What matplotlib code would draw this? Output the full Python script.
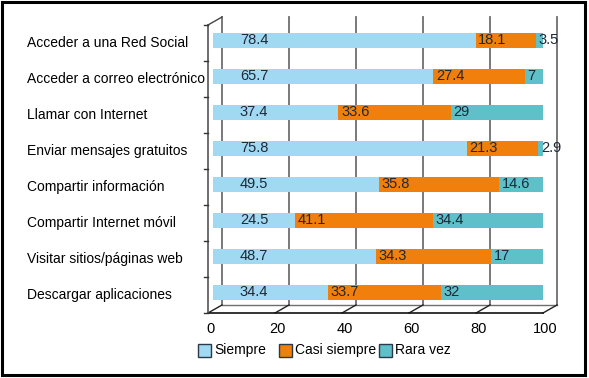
import matplotlib
matplotlib.use("Agg")
import matplotlib.pyplot as plt
import matplotlib.transforms as mtransforms
from matplotlib.patches import Rectangle

plt.rcParams['font.family'] = ['Liberation Sans', 'DejaVu Sans']

categories = ["Acceder a una Red Social", "Acceder a correo electrónico",
              "Llamar con Internet", "Enviar mensajes gratuitos",
              "Compartir información", "Compartir Internet móvil",
              "Visitar sitios/páginas web", "Descargar aplicaciones"]
siempre = [78.4, 65.7, 37.4, 75.8, 49.5, 24.5, 48.7, 34.4]
casi_siempre = [18.1, 27.4, 33.6, 21.3, 35.8, 41.1, 34.3, 33.7]
rara_vez = [3.5, 7, 29, 2.9, 14.6, 34.4, 17, 32]
series_names = ["Siempre", "Casi siempre", "Rara vez"]
colors = ["#a0d9f1", "#f07f0b", "#5fc0c9"]
xticks = [0, 20, 40, 60, 80, 100]

W, H = 589, 378
fig = plt.figure(figsize=(W / 100, H / 100), dpi=100)
# front plane of the pseudo-3D box
x0, x1, ytop, ybot = 208, 543, 25, 313
ax = fig.add_axes([x0 / W, 1 - ybot / H, (x1 - x0) / W, (ybot - ytop) / H])
ax.set_xlim(0, 100)
ax.set_ylim(len(categories) - 0.5, -0.5)
ax.axis("off")

pxu = (x1 - x0) / 100.0          # pixels per x unit
pyu = (ybot - ytop) / len(categories)
dx = 14 / pxu                     # depth offset
dy = -8 / pyu
grid_c = "#6e6e6e"
n = len(categories)
ylo, yhi = -0.5, n - 0.5

# back wall gridlines
for v in xticks:
    ax.plot([v + dx, v + dx], [ylo + dy, yhi + dy], color=grid_c, lw=1.3, clip_on=False, zorder=1)
# back floor line
ax.plot([dx, 100 + dx], [yhi + dy, yhi + dy], color=grid_c, lw=1.0, clip_on=False, zorder=1)
# floor diagonals
for v in xticks:
    ax.plot([v, v + dx], [yhi, yhi + dy], color="#222222", lw=1.0, clip_on=False, zorder=1)
# top-left diagonal
ax.plot([0, dx], [ylo, ylo + dy], color="#444444", lw=1.0, clip_on=False, zorder=1)
# front axes
ax.plot([0, 100], [yhi, yhi], color="#111111", lw=1.2, clip_on=False, zorder=3)
ax.plot([0, 0], [ylo, yhi], color="#555555", lw=1.2, clip_on=False, zorder=3)
for k in range(n + 1):
    ax.plot([-4 / pxu, 0], [ylo + k, ylo + k], color="#333333", lw=1.0, clip_on=False, zorder=3)

# bars
bar_off = 5 / pxu
ypos = [i - 2.5 / pyu for i in range(n)]
bh = 15 / pyu
left = [bar_off] * n
for vals, c in zip([siempre, casi_siempre, rara_vez], colors):
    ax.barh(ypos, vals, left=left, height=bh, color=c, edgecolor="none", zorder=2)
    for i, v in enumerate(vals):
        if c == colors[0]:
            tx = 9.5
        else:
            tx = left[i] + 0.8
        ax.text(tx, ypos[i], f"{v:g}", ha="left", va="center", fontsize=10.5,
                color="#1e2836", zorder=4)
    left = [l + v for l, v in zip(left, vals)]

# category labels
trans = mtransforms.blended_transform_factory(fig.transFigure, ax.transData)
for i, cat in enumerate(categories):
    ax.text(27 / W, i, cat, transform=trans, ha="left", va="center", fontsize=10, color="black")

# x tick labels
for v in xticks:
    ax.text(v + 0.8, yhi + 16 / pyu, str(v), ha="center", va="center", fontsize=10.5, color="black")

# legend
lx = [198, 279, 379]
for name, c, px in zip(series_names, colors, lx):
    fig.patches.append(Rectangle((px / W, 1 - 357 / H), 13 / W, 13 / H, transform=fig.transFigure,
                                 facecolor=c, edgecolor="#2a3a4a", lw=1.0))
    fig.text((px + 16) / W, 1 - 350 / H, name, ha="left", va="center", fontsize=10, color="black")

# outer frame
fig.patches.append(Rectangle((2 / W, 1 - 375 / H), 583 / W, 373 / H, transform=fig.transFigure,
                             facecolor="none", edgecolor="black", lw=2.2))

fig.savefig("out.png", dpi=100)
